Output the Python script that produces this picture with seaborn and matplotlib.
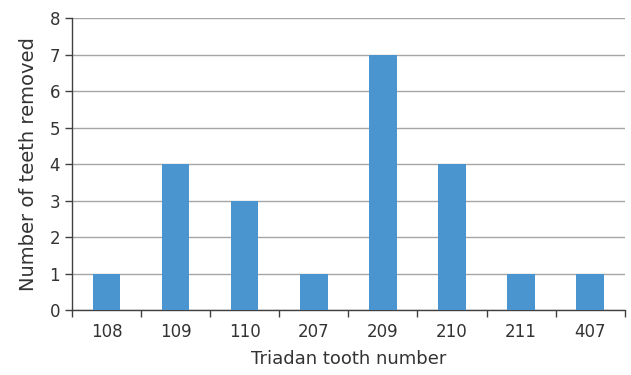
import pandas as pd
import matplotlib.pyplot as plt
import seaborn as sns
from matplotlib.ticker import FixedLocator

# data
teeth = ['108', '109', '110', '207', '209', '210', '211', '407']
removed = [1, 4, 3, 1, 7, 4, 1, 1]

df = pd.DataFrame({'tooth': teeth, 'removed': removed})

sns.set_style("white")
plt.rcParams['font.family'] = ['DejaVu Sans']

fig = plt.figure(figsize=(6.31, 3.75), dpi=100)
ax = fig.add_axes([0.114, 0.173, 0.876, 0.779])

sns.barplot(data=df, x='tooth', y='removed', color='#4a94d0', width=0.4,
            saturation=1, linewidth=0, ax=ax, zorder=3)

ax.set_ylim(0, 8)
ax.set_xlim(-0.5, len(teeth) - 0.5)
ax.set_yticks(range(0, 9))
ax.yaxis.grid(True, color='#a6a6a6', linewidth=1, zorder=0)

for side in ['top', 'right']:
    ax.spines[side].set_visible(False)
for side in ['left', 'bottom']:
    ax.spines[side].set_color('#404040')
    ax.spines[side].set_linewidth(1)

# x ticks sit between categories
ax.xaxis.set_minor_locator(FixedLocator([i - 0.5 for i in range(len(teeth) + 1)]))
ax.tick_params(axis='x', which='major', length=0, pad=9, labelsize=12, colors='#333333')
ax.tick_params(axis='x', which='minor', length=5, width=1, color='#404040',
               direction='out', bottom=True)
ax.tick_params(axis='y', length=5, width=1, color='#404040', direction='out', labelsize=12,
               labelcolor='#333333', left=True)

ax.set_xlabel('Triadan tooth number', fontsize=13, color='#333333', labelpad=7)
ax.set_ylabel('Number of teeth removed', fontsize=14, color='#333333', labelpad=8)

fig.savefig('out.png', dpi=100)
